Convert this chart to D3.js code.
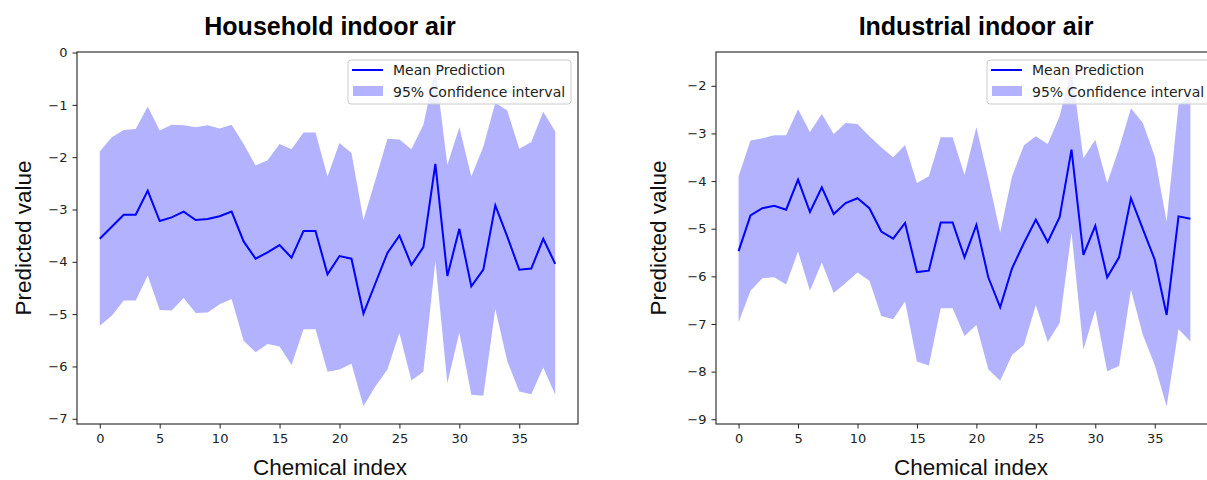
<!DOCTYPE html>
<html>
<head>
<meta charset="utf-8">
<script src="https://cdn.jsdelivr.net/npm/d3@7"></script>
<style>
    body { margin: 0; background: #ffffff; }
    svg { display: block; }
</style>
</head>
<body>
<svg id="chart"></svg>
<script>
// chemical indices 0..38
const chemIndex = d3.range(39);

const houseMean = [-3.56, -3.33, -3.10, -3.10, -2.64, -3.22, -3.15, -3.04, -3.20, -3.18, -3.13, -3.04,
    -3.61, -3.94, -3.82, -3.68, -3.92, -3.41, -3.41, -4.24, -3.89, -3.94, -4.99, -4.41, -3.83, -3.50,
    -4.06, -3.72, -2.13, -4.27, -3.37, -4.47, -4.15, -2.92, -3.52, -4.15, -4.13, -3.56, -4.04];
const houseUpper = [-1.89, -1.62, -1.48, -1.46, -1.03, -1.49, -1.38, -1.39, -1.43, -1.39, -1.45, -1.38,
    -1.75, -2.16, -2.06, -1.75, -1.85, -1.53, -1.53, -2.37, -1.73, -1.92, -3.20, -2.43, -1.65, -1.66,
    -1.85, -1.38, -0.30, -2.15, -1.43, -2.37, -1.80, -0.96, -1.11, -1.84, -1.71, -1.13, -1.51];
const houseLower = [-5.22, -5.03, -4.74, -4.74, -4.26, -4.92, -4.93, -4.69, -4.98, -4.97, -4.81, -4.71,
    -5.51, -5.73, -5.57, -5.62, -5.97, -5.29, -5.29, -6.10, -6.06, -5.95, -6.76, -6.38, -6.06, -5.36,
    -6.27, -6.10, -3.99, -6.32, -5.35, -6.54, -6.56, -4.90, -5.90, -6.48, -6.53, -6.02, -6.54];

const industMean = [-5.47, -4.72, -4.57, -4.52, -4.60, -3.97, -4.65, -4.13, -4.69, -4.46, -4.36, -4.57,
    -5.06, -5.21, -4.88, -5.91, -5.88, -4.87, -4.87, -5.60, -4.92, -6.02, -6.65, -5.83, -5.30, -4.81,
    -5.28, -4.76, -3.34, -5.55, -4.94, -6.02, -5.60, -4.36, -5.01, -5.65, -6.81, -4.74, -4.79];
const industUpper = [-3.90, -3.15, -3.10, -3.04, -3.04, -2.49, -2.97, -2.59, -3.01, -2.78, -2.80, -3.06,
    -3.29, -3.50, -3.24, -4.04, -3.90, -3.08, -3.08, -3.87, -2.87, -3.94, -5.08, -3.90, -3.25, -3.06,
    -3.22, -2.64, -1.62, -3.52, -3.13, -4.04, -3.31, -2.47, -2.78, -3.48, -4.85, -2.40, -2.22];
const industLower = [-6.97, -6.30, -6.04, -6.02, -6.17, -5.48, -6.30, -5.71, -6.35, -6.14, -5.92, -6.09,
    -6.83, -6.90, -6.53, -7.79, -7.87, -6.67, -6.67, -7.25, -7.02, -7.95, -8.19, -7.65, -7.44, -6.60,
    -7.38, -6.98, -5.08, -7.54, -6.70, -7.99, -7.88, -6.28, -7.23, -7.86, -8.73, -7.11, -7.37];

const xTicks = [0, 5, 10, 15, 20, 25, 30, 35];
const houseYTicks = [0, -1, -2, -3, -4, -5, -6, -7];
const industYTicks = [-2, -3, -4, -5, -6, -7, -8, -9];
const legendLabels = ["Mean Prediction", "95% Confidence interval"];

const width = 1207, height = 480;
const lineColor = "#0000ff";
const tickFont = "DejaVu Sans";
const labelFont = "Liberation Sans, Arial";

const svg = d3.select("#chart").attr("width", width).attr("height", height);

const panels = [
    {
        title: "Household indoor air", titleX: 330, xLabelX: 330,
        left: 77, right: 578, yDomain: [-7.1, 0.01], yTicks: houseYTicks,
        mean: houseMean, upper: houseUpper, lower: houseLower,
        legendX: 348, legendW: 223, yLabelX: 23
    },
    {
        title: "Industrial indoor air", titleX: 976, xLabelX: 971,
        left: 716, right: 1213, yDomain: [-9.1, -1.29], yTicks: industYTicks,
        mean: industMean, upper: industUpper, lower: industLower,
        legendX: 987, legendW: 224, yLabelX: 658
    }
];

const plotTop = 52, plotBottom = 424;

function drawPanel(p) {
    const g = svg.append("g");
    const x = d3.scaleLinear().domain([-1.9, 39.9]).range([p.left, p.right]);
    const y = d3.scaleLinear().domain(p.yDomain).range([plotBottom, plotTop]);

    const rows = chemIndex.map((c, i) => ({ c, mean: p.mean[i], lo: p.lower[i], hi: p.upper[i] }));

    g.append("path")
        .datum(rows)
        .attr("d", d3.area().x(d => x(d.c)).y0(d => y(d.lo)).y1(d => y(d.hi)))
        .attr("fill", lineColor)
        .attr("fill-opacity", 0.3);

    g.append("path")
        .datum(rows)
        .attr("d", d3.line().x(d => x(d.c)).y(d => y(d.mean)))
        .attr("fill", "none")
        .attr("stroke", lineColor)
        .attr("stroke-width", 2);

    // axes
    const xAxis = g.append("g")
        .attr("transform", "translate(0," + plotBottom + ")")
        .call(d3.axisBottom(x).tickValues(xTicks).tickSize(4.5).tickSizeOuter(0).tickPadding(5));
    const yAxis = g.append("g")
        .attr("transform", "translate(" + p.left + ",0)")
        .call(d3.axisLeft(y).tickValues(p.yTicks).tickSize(4.5).tickSizeOuter(0).tickPadding(5));
    [xAxis, yAxis].forEach(a => {
        a.select(".domain").remove();
        a.selectAll("text").attr("font-family", tickFont).attr("font-size", 13).attr("fill", "#222");
        a.selectAll("line").attr("stroke", "#222");
    });

    g.append("rect")
        .attr("x", p.left).attr("y", plotTop)
        .attr("width", p.right - p.left).attr("height", plotBottom - plotTop)
        .attr("fill", "none").attr("stroke", "#222").attr("stroke-width", 1.1);

    // titles and labels
    g.append("text")
        .attr("x", p.titleX).attr("y", 35)
        .attr("text-anchor", "middle")
        .attr("font-family", labelFont).attr("font-weight", "bold").attr("font-size", 25)
        .text(p.title);

    g.append("text")
        .attr("x", p.xLabelX).attr("y", 475)
        .attr("text-anchor", "middle")
        .attr("font-family", labelFont).attr("font-size", 22.5)
        .attr("fill", "#111")
        .text("Chemical index");

    g.append("text")
        .attr("transform", "translate(" + (p.yLabelX + 8) + "," + (plotTop + plotBottom) / 2 + ") rotate(-90)")
        .attr("text-anchor", "middle")
        .attr("font-family", labelFont).attr("font-size", 22.5)
        .attr("fill", "#111")
        .text("Predicted value");

    // legend
    const lg = g.append("g").attr("transform", "translate(" + p.legendX + ",60)");
    lg.append("rect")
        .attr("width", p.legendW).attr("height", 44)
        .attr("rx", 3)
        .attr("fill", "#ffffff").attr("fill-opacity", 0.8)
        .attr("stroke", "#cccccc").attr("stroke-width", 1);
    lg.append("line")
        .attr("x1", 4).attr("x2", 35).attr("y1", 10).attr("y2", 10)
        .attr("stroke", lineColor).attr("stroke-width", 2);
    lg.append("rect")
        .attr("x", 5).attr("y", 26).attr("width", 30).attr("height", 10)
        .attr("fill", lineColor).attr("fill-opacity", 0.3);
    lg.selectAll(".lgtext").data(legendLabels)
        .join("text")
        .attr("class", "lgtext")
        .attr("x", 45)
        .attr("y", (d, i) => 15 + i * 22)
        .attr("font-family", tickFont).attr("font-size", 14)
        .attr("fill", "#222")
        .text(d => d);
}

panels.forEach(drawPanel);
</script>
</body>
</html>
